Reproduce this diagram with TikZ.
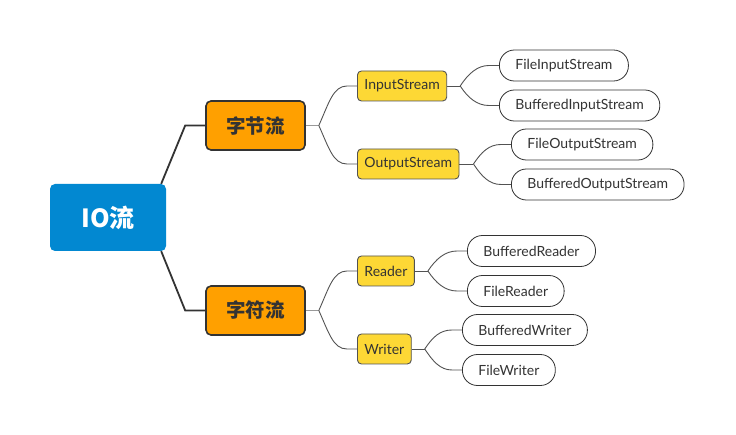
\documentclass[tikz,border=0pt]{standalone}
\usepackage{fontspec}
\setmainfont{Lato}
\newfontfamily\cjk{Noto Sans CJK SC}
\usepackage{xcolor}
\definecolor{rootblue}{HTML}{0288D1}
\definecolor{topicorange}{HTML}{FFA000}
\definecolor{subyellow}{HTML}{FDD835}
\definecolor{edge}{HTML}{333333}
\definecolor{txt}{HTML}{333333}

\begin{document}
\begin{tikzpicture}[
        x=1pt, y=-1pt,
        every node/.style={font=\fontsize{14}{16}\selectfont, text=txt},
        root/.style={fill=rootblue, rounded corners=5pt, minimum width=116pt, minimum height=67pt,
          font=\cjk\bfseries\fontsize{25}{28}\selectfont, text=white},
        topic/.style={fill=topicorange, draw=edge, line width=1.6pt, rounded corners=5pt,
          minimum width=99pt, minimum height=49pt, font=\cjk\bfseries\fontsize{19.5}{22}\selectfont},
        sub/.style={fill=subyellow, draw=edge!85, line width=0.9pt, rounded corners=4pt,
          minimum height=30pt, inner xsep=7pt, anchor=west},
        leaf/.style={fill=white, draw=edge, line width=0.8pt, rounded corners=15pt,
          minimum height=31pt, inner xsep=16pt, anchor=west},
        trunk/.style={draw=edge, line width=1.8pt},
        stem/.style={draw=gray!80, line width=1.5pt},
        twig/.style={draw=edge!85, line width=0.9pt}
      ]
        \useasboundingbox (0,0) rectangle (736,435);

        % root and the two main branches
        \node[root] (io) at (108,217.5) {IO流};
        \node[topic] (byte) at (255.5,125.5) {字节流};
        \node[topic] (char) at (255.5,310.5) {字符流};

        % second level
        \node[sub] (in) at (357,86) {InputStream};
        \node[sub] (out) at (357,164) {OutputStream};
        \node[sub] (rd) at (357,271) {Reader};
        \node[sub] (wr) at (357,349) {Writer};

        % leaves
        \node[leaf] (fis) at (499,65.5) {FileInputStream};
        \node[leaf] (bis) at (499,105.5) {BufferedInputStream};
        \node[leaf] (fos) at (511,144.5) {FileOutputStream};
        \node[leaf] (bos) at (511,184.5) {BufferedOutputStream};
        \node[leaf] (br) at (467,251) {BufferedReader};
        \node[leaf] (fr) at (467,291) {FileReader};
        \node[leaf] (bw) at (462,330) {BufferedWriter};
        \node[leaf] (fw) at (462,370) {FileWriter};

        \draw[trunk] ([xshift=-5]io.north east) -- ([xshift=-20]byte.west) -- (byte.west);
        \draw[trunk] ([xshift=-5]io.south east) -- ([xshift=-20]char.west) -- (char.west);

        \draw[stem] (byte.east) -- ++(13,0) coordinate (bs);
        \draw[twig] (bs) .. controls +(10,-22) and +(-14,0) .. ([xshift=-10]in.west) -- (in.west);
        \draw[twig] (bs) .. controls +(10,22) and +(-14,0) .. ([xshift=-10]out.west) -- (out.west);
        \draw[stem] (char.east) -- ++(13,0) coordinate (cs);
        \draw[twig] (cs) .. controls +(10,-22) and +(-14,0) .. ([xshift=-10]rd.west) -- (rd.west);
        \draw[twig] (cs) .. controls +(10,22) and +(-14,0) .. ([xshift=-10]wr.west) -- (wr.west);

        \draw[twig] (in.east) -- ++(13,0) coordinate (is);
        \draw[twig] (is) .. controls +(8,-12) and +(-12,0) .. ([xshift=-10]fis.west) -- (fis.west);
        \draw[twig] (is) .. controls +(8,12) and +(-12,0) .. ([xshift=-10]bis.west) -- (bis.west);
        \draw[twig] (out.east) -- ++(14,0) coordinate (os);
        \draw[twig] (os) .. controls +(8,-12) and +(-12,0) .. ([xshift=-10]fos.west) -- (fos.west);
        \draw[twig] (os) .. controls +(8,12) and +(-12,0) .. ([xshift=-10]bos.west) -- (bos.west);
        \draw[twig] (rd.east) -- ++(13,0) coordinate (rs);
        \draw[twig] (rs) .. controls +(8,-12) and +(-12,0) .. ([xshift=-10]br.west) -- (br.west);
        \draw[twig] (rs) .. controls +(8,12) and +(-12,0) .. ([xshift=-10]fr.west) -- (fr.west);
        \draw[twig] (wr.east) -- ++(13,0) coordinate (ws);
        \draw[twig] (ws) .. controls +(8,-12) and +(-12,0) .. ([xshift=-10]bw.west) -- (bw.west);
        \draw[twig] (ws) .. controls +(8,12) and +(-12,0) .. ([xshift=-10]fw.west) -- (fw.west);
      \end{tikzpicture}
\end{document}
